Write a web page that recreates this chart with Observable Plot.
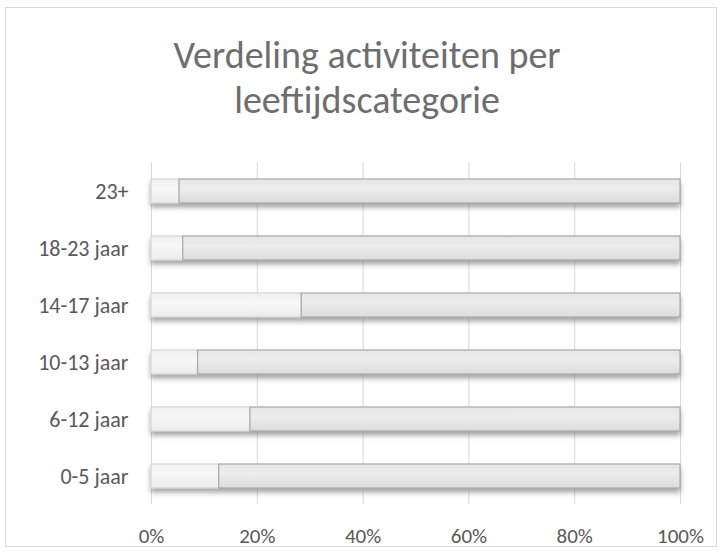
<!DOCTYPE html>
<html>
<head>
<meta charset="utf-8">
<script src="https://cdn.jsdelivr.net/npm/d3@7"></script>
<script src="https://cdn.jsdelivr.net/npm/@observablehq/plot@0.6"></script>
<style>
  html, body { margin: 0; padding: 0; background: #fff; }
  #wrap { position: relative; width: 723px; height: 552px; font-family: Carlito, Lato, sans-serif; }
  #box { position: absolute; left: 5px; top: 7px; width: 712px; height: 540px; border: 1px solid #d9d9d9; box-sizing: border-box; }
  #title { position: absolute; left: 0; width: 734px; top: 33px; text-align: center; font-size: 38px; font-weight: 300; line-height: 45px; color: #6e6e6e; }
  #chart { position: absolute; left: 0; top: 0; }
</style>
</head>
<body>
<div id="wrap">
  <div id="box"></div>
  <div id="chart"></div>
  <div id="title">Verdeling activiteiten per<br>leeftijdscategorie</div>
</div>
<script>
const categories = ["0-5 jaar", "6-12 jaar", "10-13 jaar", "14-17 jaar", "18-23 jaar", "23+"];
const series = ["A", "B"];
const valuesA = [12.8, 18.7, 8.8, 28.4, 6.0, 5.3];
const valuesB = [87.2, 81.3, 91.2, 71.6, 94.0, 94.7];
const xTicks = [0, 20, 40, 60, 80, 100];

const rows = [];
categories.forEach((c, i) => {
  rows.push({cat: c, series: "A", value: valuesA[i]});
  rows.push({cat: c, series: "B", value: valuesB[i]});
});

const plot = Plot.plot({
  width: 723,
  height: 552,
  marginLeft: 151,
  marginRight: 43,
  marginTop: 162,
  marginBottom: 48,
  style: {fontFamily: "Carlito, Lato, sans-serif", fontSize: "21px", color: "#595959", background: "transparent"},
  x: {domain: [0, 100], ticks: xTicks, tickFormat: d => d + "%", label: null},
  y: {domain: categories.slice().reverse(), paddingInner: 0.58, paddingOuter: 0.29, label: null},
  marks: [
    Plot.gridX(xTicks, {stroke: "#d9d9d9", strokeOpacity: 1}),
    Plot.barX(rows, Plot.stackX({
      y: "cat",
      x: "value",
      order: series,
      z: "series",
      fill: d => d.series === "A" ? "url(#gA)" : "url(#gB)",
      stroke: d => d.series === "A" ? "#d6d6d6" : "#a9a9a9",
      strokeWidth: 1.2,
      className: "bars"
    })),
    Plot.axisX({ticks: xTicks, tickFormat: d => d + "%", tickSize: 0, tickPadding: 24, fontSize: 21, fill: "#595959", label: null}),
    Plot.axisY({tickSize: 0, tickPadding: 23, fontSize: 22, fill: "#595959", label: null})
  ]
});

// gradients & shadow
const svg = d3.select(plot);
const defs = svg.insert("defs", ":first-child");
const gA = defs.append("linearGradient").attr("id", "gA").attr("x1", 0).attr("y1", 0).attr("x2", 0).attr("y2", 1);
gA.append("stop").attr("offset", "0%").attr("stop-color", "#f0f0f0");
gA.append("stop").attr("offset", "40%").attr("stop-color", "#f7f7f7");
gA.append("stop").attr("offset", "100%").attr("stop-color", "#ececec");
const gB = defs.append("linearGradient").attr("id", "gB").attr("x1", 0).attr("y1", 0).attr("x2", 0).attr("y2", 1);
gB.append("stop").attr("offset", "0%").attr("stop-color", "#e6e6e6");
gB.append("stop").attr("offset", "40%").attr("stop-color", "#ececec");
gB.append("stop").attr("offset", "100%").attr("stop-color", "#dcdcdc");
const f = defs.append("filter").attr("id", "shadow").attr("x", "-5%").attr("y", "-50%").attr("width", "110%").attr("height", "220%");
f.append("feDropShadow").attr("dx", 0).attr("dy", 4).attr("stdDeviation", 2.4).attr("flood-color", "#6e6e6e").attr("flood-opacity", 0.6);
svg.selectAll("g.bars").attr("filter", "url(#shadow)");

document.getElementById("chart").appendChild(plot);
</script>
</body>
</html>
